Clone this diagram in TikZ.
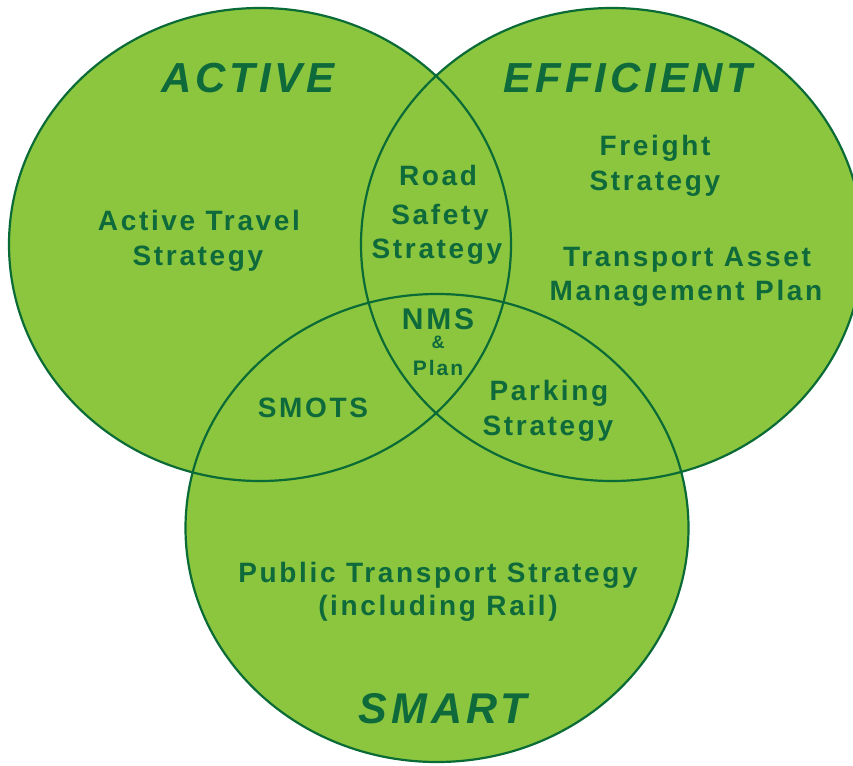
\documentclass[tikz,border=0pt]{standalone}
\usepackage{fontspec}
\setmainfont{Liberation Sans}
\newfontfamily\lblfont{Liberation Sans}[LetterSpace=9.5]
\definecolor{leaf}{HTML}{8CC63F}
\definecolor{rim}{HTML}{0B6B36}
\definecolor{ink}{HTML}{0E6A3A}
\begin{document}
\begin{tikzpicture}[x=1pt,y=-1pt,
  ring/.style={draw=rim,line width=2.2pt},
  lbl/.style={anchor=base,inner sep=0pt,text=ink,font=\lblfont\bfseries\fontsize{28}{32}\selectfont},
  smalllbl/.style={lbl,font=\lblfont\bfseries\fontsize{21}{25}\selectfont},
  tinylbl/.style={lbl,font=\lblfont\bfseries\fontsize{18}{22}\selectfont},
  biglbl/.style={lbl,font=\lblfont\bfseries\fontsize{30}{34}\selectfont},
  title/.style={anchor=base,inner sep=0pt,text=ink,font=\lblfont\bfseries\itshape\fontsize{42}{48}\selectfont}]
\useasboundingbox (0,0) rectangle (853,765);
% the three sets: fills first, outlines on top
\fill[leaf] (260,244.5) ellipse [x radius=251, y radius=236.5];
\fill[leaf] (612,244.5) ellipse [x radius=251, y radius=236.5];
\fill[leaf] (437,528) ellipse [x radius=251.5, y radius=234];
\draw[ring] (260,244.5) ellipse [x radius=251, y radius=236.5];
\draw[ring] (612,244.5) ellipse [x radius=251, y radius=236.5];
\draw[ring] (437,528) ellipse [x radius=251.5, y radius=234];
% set titles
\node[title] (tActive) at (248,93) {ACTIVE};
\node[title] (tEfficient) at (628,93) {EFFICIENT};
\node[title,font=\lblfont\bfseries\itshape\fontsize{43}{48}\selectfont] (tSmart) at (443,723) {SMART};
% active only
\node[lbl] (at1) at (199,230) {Active Travel};
\node[lbl] (at2) at (198,265) {Strategy};
% active & efficient
\node[lbl] (rs1) at (438,185) {Road};
\node[lbl] (rs2) at (440,224) {Safety};
\node[lbl] (rs3) at (437,258) {Strategy};
% efficient only
\node[lbl] (fr1) at (655,155) {Freight};
\node[lbl] (fr2) at (655,190) {Strategy};
\node[lbl] (ta1) at (687,266) {Transport Asset};
\node[lbl] (ta2) at (686,300) {Management Plan};
% centre
\node[biglbl] (nm1) at (438,329) {NMS};
\node[tinylbl] (nm2) at (438,348) {\&};
\node[smalllbl] (nm3) at (438,375) {Plan};
% active & smart
\node[lbl] (sm) at (313,417) {SMOTS};
% efficient & smart
\node[lbl] (pk1) at (549,400) {Parking};
\node[lbl] (pk2) at (548,435) {Strategy};
% smart only
\node[lbl] (pt1) at (438,582) {Public Transport Strategy};
\node[lbl] (pt2) at (438,615) {(including Rail)};
\end{tikzpicture}
\end{document}
